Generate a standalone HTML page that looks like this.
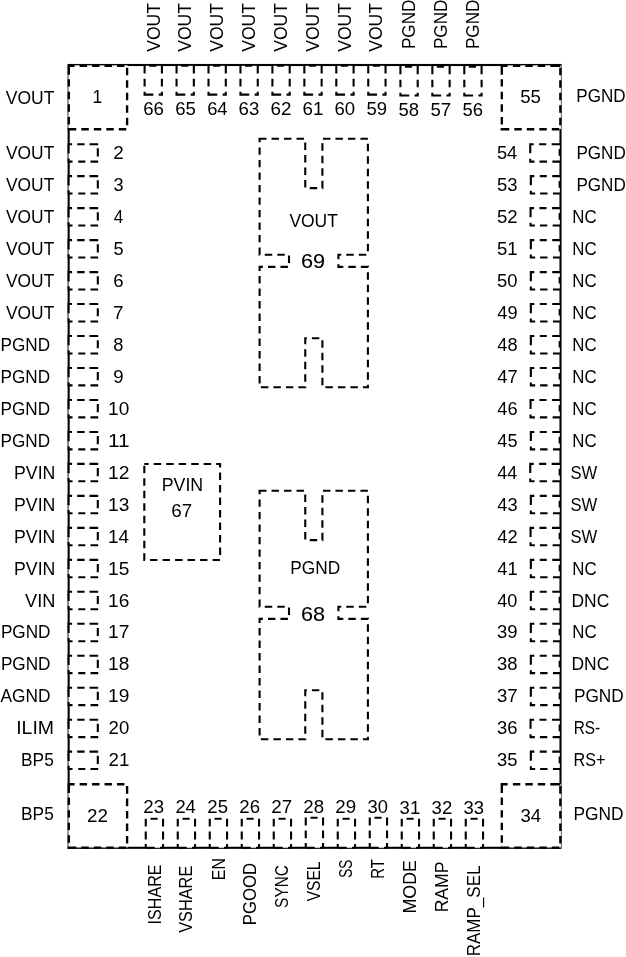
<!DOCTYPE html>
<html><head><meta charset="utf-8"><title>Pinout</title>
<style>
html,body{margin:0;padding:0;background:#fff;}
svg{display:block;will-change:transform;}
text.b{stroke:#000;stroke-width:0.1px;}
text{font-family:"Liberation Sans",sans-serif;font-size:18.0px;fill:#000;}
</style></head><body>
<svg width="626" height="957" viewBox="0 0 626 957">
<rect width="626" height="957" fill="#fff"/>
<rect x="68.65" y="65.0" width="491.85" height="782.8" fill="none" stroke="#000" stroke-width="2.1"/>
<g fill="#fff"><rect x="68.50" y="144.20" width="29.30" height="17.40"/><rect x="68.50" y="176.17" width="29.30" height="17.40"/><rect x="68.50" y="208.14" width="29.30" height="17.40"/><rect x="68.50" y="240.12" width="29.30" height="17.40"/><rect x="68.50" y="272.09" width="29.30" height="17.40"/><rect x="68.50" y="304.06" width="29.30" height="17.40"/><rect x="68.50" y="336.03" width="29.30" height="17.40"/><rect x="68.50" y="368.00" width="29.30" height="17.40"/><rect x="68.50" y="399.98" width="29.30" height="17.40"/><rect x="68.50" y="431.95" width="29.30" height="17.40"/><rect x="68.50" y="463.92" width="29.30" height="17.40"/><rect x="68.50" y="495.89" width="29.30" height="17.40"/><rect x="68.50" y="527.86" width="29.30" height="17.40"/><rect x="68.50" y="559.84" width="29.30" height="17.40"/><rect x="68.50" y="591.81" width="29.30" height="17.40"/><rect x="68.50" y="623.78" width="29.30" height="17.40"/><rect x="68.50" y="655.75" width="29.30" height="17.40"/><rect x="68.50" y="687.72" width="29.30" height="17.40"/><rect x="68.50" y="719.70" width="29.30" height="17.40"/><rect x="68.50" y="751.67" width="29.30" height="17.40"/><rect x="530.85" y="751.67" width="28.85" height="17.40"/><rect x="530.55" y="719.70" width="29.15" height="17.40"/><rect x="530.85" y="687.72" width="28.85" height="17.40"/><rect x="530.85" y="655.75" width="28.85" height="17.40"/><rect x="530.85" y="623.78" width="28.85" height="17.40"/><rect x="530.85" y="591.81" width="28.85" height="17.40"/><rect x="530.85" y="559.84" width="28.85" height="17.40"/><rect x="530.55" y="527.86" width="29.15" height="17.40"/><rect x="530.85" y="495.89" width="28.85" height="17.40"/><rect x="530.25" y="463.92" width="29.45" height="17.40"/><rect x="530.85" y="431.95" width="28.85" height="17.40"/><rect x="530.55" y="399.98" width="29.15" height="17.40"/><rect x="530.85" y="368.00" width="28.85" height="17.40"/><rect x="530.85" y="336.03" width="28.85" height="17.40"/><rect x="530.85" y="304.06" width="28.85" height="17.40"/><rect x="530.85" y="272.09" width="28.85" height="17.40"/><rect x="530.85" y="240.12" width="28.85" height="17.40"/><rect x="530.55" y="208.14" width="29.15" height="17.40"/><rect x="530.85" y="176.17" width="28.85" height="17.40"/><rect x="530.25" y="144.20" width="29.45" height="17.40"/><rect x="144.60" y="65.80" width="17.30" height="28.80"/><rect x="176.55" y="65.80" width="17.30" height="28.80"/><rect x="208.50" y="65.80" width="17.30" height="28.80"/><rect x="240.45" y="65.80" width="17.30" height="28.80"/><rect x="272.40" y="65.80" width="17.30" height="28.80"/><rect x="304.35" y="65.80" width="17.30" height="28.80"/><rect x="336.30" y="65.80" width="17.30" height="28.80"/><rect x="368.25" y="65.80" width="17.30" height="28.80"/><rect x="400.40" y="66.70" width="17.30" height="28.80"/><rect x="432.35" y="66.70" width="17.30" height="28.80"/><rect x="464.30" y="66.70" width="17.30" height="28.80"/><rect x="145.75" y="818.80" width="17.30" height="28.95"/><rect x="177.75" y="818.80" width="17.30" height="28.95"/><rect x="209.75" y="818.80" width="17.30" height="28.95"/><rect x="241.75" y="818.80" width="17.30" height="28.95"/><rect x="273.75" y="818.80" width="17.30" height="28.95"/><rect x="305.75" y="817.70" width="17.30" height="30.05"/><rect x="337.75" y="818.80" width="17.30" height="28.95"/><rect x="369.75" y="817.70" width="17.30" height="30.05"/><rect x="401.75" y="818.80" width="17.30" height="28.95"/><rect x="433.75" y="818.80" width="17.30" height="28.95"/><rect x="465.75" y="818.80" width="17.30" height="28.95"/><rect x="68.40" y="65.35" width="59.25" height="63.75"/><rect x="501.40" y="65.35" width="59.50" height="63.75"/><rect x="68.40" y="783.75" width="59.25" height="63.75"/><rect x="501.40" y="783.75" width="59.50" height="63.75"/></g>
<path d="M67.55,144.20 L72.10,144.20 M77.20,144.20 L84.60,144.20 M89.50,144.20 L98.20,144.20 M97.80,148.30 L97.80,156.50 M67.55,161.60 L72.50,161.60 M78.30,161.60 L85.30,161.60 M90.50,161.60 L98.20,161.60 M68.60,144.20 L68.60,153.50 M68.60,158.40 L68.60,161.60 M67.55,176.17 L72.10,176.17 M77.20,176.17 L84.60,176.17 M89.50,176.17 L98.20,176.17 M97.80,180.27 L97.80,188.47 M67.55,193.57 L72.50,193.57 M78.30,193.57 L85.30,193.57 M90.50,193.57 L98.20,193.57 M68.60,176.17 L68.60,185.47 M68.60,190.37 L68.60,193.57 M67.55,208.14 L72.10,208.14 M77.20,208.14 L84.60,208.14 M89.50,208.14 L98.20,208.14 M97.80,212.24 L97.80,220.44 M67.55,225.54 L72.50,225.54 M78.30,225.54 L85.30,225.54 M90.50,225.54 L98.20,225.54 M68.60,208.14 L68.60,217.44 M68.60,222.34 L68.60,225.54 M67.55,240.12 L72.10,240.12 M77.20,240.12 L84.60,240.12 M89.50,240.12 L98.20,240.12 M97.80,244.22 L97.80,252.42 M67.55,257.52 L72.50,257.52 M78.30,257.52 L85.30,257.52 M90.50,257.52 L98.20,257.52 M68.60,240.12 L68.60,249.42 M68.60,254.32 L68.60,257.52 M67.55,272.09 L72.10,272.09 M77.20,272.09 L84.60,272.09 M89.50,272.09 L98.20,272.09 M97.80,276.19 L97.80,284.39 M67.55,289.49 L72.50,289.49 M78.30,289.49 L85.30,289.49 M90.50,289.49 L98.20,289.49 M68.60,272.09 L68.60,281.39 M68.60,286.29 L68.60,289.49 M67.55,304.06 L72.10,304.06 M77.20,304.06 L84.60,304.06 M89.50,304.06 L98.20,304.06 M97.80,308.16 L97.80,316.36 M67.55,321.46 L72.50,321.46 M78.30,321.46 L85.30,321.46 M90.50,321.46 L98.20,321.46 M68.60,304.06 L68.60,313.36 M68.60,318.26 L68.60,321.46 M67.55,336.03 L72.10,336.03 M77.20,336.03 L84.60,336.03 M89.50,336.03 L98.20,336.03 M97.80,340.13 L97.80,348.33 M67.55,353.43 L72.50,353.43 M78.30,353.43 L85.30,353.43 M90.50,353.43 L98.20,353.43 M68.60,336.03 L68.60,345.33 M68.60,350.23 L68.60,353.43 M67.55,368.00 L72.10,368.00 M77.20,368.00 L84.60,368.00 M89.50,368.00 L98.20,368.00 M97.80,372.10 L97.80,380.30 M67.55,385.40 L72.50,385.40 M78.30,385.40 L85.30,385.40 M90.50,385.40 L98.20,385.40 M68.60,368.00 L68.60,377.30 M68.60,382.20 L68.60,385.40 M67.55,399.98 L72.10,399.98 M77.20,399.98 L84.60,399.98 M89.50,399.98 L98.20,399.98 M97.80,404.08 L97.80,412.28 M67.55,417.38 L72.50,417.38 M78.30,417.38 L85.30,417.38 M90.50,417.38 L98.20,417.38 M68.60,399.98 L68.60,409.28 M68.60,414.18 L68.60,417.38 M67.55,431.95 L72.10,431.95 M77.20,431.95 L84.60,431.95 M89.50,431.95 L98.20,431.95 M97.80,436.05 L97.80,444.25 M67.55,449.35 L72.50,449.35 M78.30,449.35 L85.30,449.35 M90.50,449.35 L98.20,449.35 M68.60,431.95 L68.60,441.25 M68.60,446.15 L68.60,449.35 M67.55,463.92 L72.10,463.92 M77.20,463.92 L84.60,463.92 M89.50,463.92 L98.20,463.92 M97.80,468.02 L97.80,476.22 M67.55,481.32 L72.50,481.32 M78.30,481.32 L85.30,481.32 M90.50,481.32 L98.20,481.32 M68.60,463.92 L68.60,473.22 M68.60,478.12 L68.60,481.32 M67.55,495.89 L72.10,495.89 M77.20,495.89 L84.60,495.89 M89.50,495.89 L98.20,495.89 M97.80,499.99 L97.80,508.19 M67.55,513.29 L72.50,513.29 M78.30,513.29 L85.30,513.29 M90.50,513.29 L98.20,513.29 M68.60,495.89 L68.60,505.19 M68.60,510.09 L68.60,513.29 M67.55,527.86 L72.10,527.86 M77.20,527.86 L84.60,527.86 M89.50,527.86 L98.20,527.86 M97.80,531.96 L97.80,540.16 M67.55,545.26 L72.50,545.26 M78.30,545.26 L85.30,545.26 M90.50,545.26 L98.20,545.26 M68.60,527.86 L68.60,537.16 M68.60,542.06 L68.60,545.26 M67.55,559.84 L72.10,559.84 M77.20,559.84 L84.60,559.84 M89.50,559.84 L98.20,559.84 M97.80,563.94 L97.80,572.14 M67.55,577.24 L72.50,577.24 M78.30,577.24 L85.30,577.24 M90.50,577.24 L98.20,577.24 M68.60,559.84 L68.60,569.14 M68.60,574.04 L68.60,577.24 M67.55,591.81 L72.10,591.81 M77.20,591.81 L84.60,591.81 M89.50,591.81 L98.20,591.81 M97.80,595.91 L97.80,604.11 M67.55,609.21 L72.50,609.21 M78.30,609.21 L85.30,609.21 M90.50,609.21 L98.20,609.21 M68.60,591.81 L68.60,601.11 M68.60,606.01 L68.60,609.21 M67.55,623.78 L72.10,623.78 M77.20,623.78 L84.60,623.78 M89.50,623.78 L98.20,623.78 M97.80,627.88 L97.80,636.08 M67.55,641.18 L72.50,641.18 M78.30,641.18 L85.30,641.18 M90.50,641.18 L98.20,641.18 M68.60,623.78 L68.60,633.08 M68.60,637.98 L68.60,641.18 M67.55,655.75 L72.10,655.75 M77.20,655.75 L84.60,655.75 M89.50,655.75 L98.20,655.75 M97.80,659.85 L97.80,668.05 M67.55,673.15 L72.50,673.15 M78.30,673.15 L85.30,673.15 M90.50,673.15 L98.20,673.15 M68.60,655.75 L68.60,665.05 M68.60,669.95 L68.60,673.15 M67.55,687.72 L72.10,687.72 M77.20,687.72 L84.60,687.72 M89.50,687.72 L98.20,687.72 M97.80,691.82 L97.80,700.02 M67.55,705.12 L72.50,705.12 M78.30,705.12 L85.30,705.12 M90.50,705.12 L98.20,705.12 M68.60,687.72 L68.60,697.02 M68.60,701.92 L68.60,705.12 M67.55,719.70 L72.10,719.70 M77.20,719.70 L84.60,719.70 M89.50,719.70 L98.20,719.70 M97.80,723.80 L97.80,732.00 M67.55,737.10 L72.50,737.10 M78.30,737.10 L85.30,737.10 M90.50,737.10 L98.20,737.10 M68.60,719.70 L68.60,729.00 M68.60,733.90 L68.60,737.10 M67.55,751.67 L72.10,751.67 M77.20,751.67 L84.60,751.67 M89.50,751.67 L98.20,751.67 M97.80,755.77 L97.80,763.97 M67.55,769.07 L72.50,769.07 M78.30,769.07 L85.30,769.07 M90.50,769.07 L98.20,769.07 M68.60,751.67 L68.60,760.97 M68.60,765.87 L68.60,769.07 M534.35,751.67 L530.85,751.67 L530.85,760.77 M539.75,751.67 L546.75,751.67 M552.25,751.67 L560.50,751.67 M530.85,766.17 L530.85,769.07 L535.15,769.07 M540.15,769.07 L547.55,769.07 M552.95,769.07 L560.50,769.07 M559.70,756.57 L559.70,763.17 M534.05,719.70 L530.55,719.70 L530.55,728.80 M539.45,719.70 L546.45,719.70 M551.95,719.70 L560.50,719.70 M530.55,734.20 L530.55,737.10 L534.85,737.10 M539.85,737.10 L547.25,737.10 M552.65,737.10 L560.50,737.10 M559.70,724.60 L559.70,731.20 M534.35,687.72 L530.85,687.72 L530.85,696.82 M539.75,687.72 L546.75,687.72 M552.25,687.72 L560.50,687.72 M530.85,702.22 L530.85,705.12 L535.15,705.12 M540.15,705.12 L547.55,705.12 M552.95,705.12 L560.50,705.12 M559.70,692.62 L559.70,699.22 M534.35,655.75 L530.85,655.75 L530.85,664.85 M539.75,655.75 L546.75,655.75 M552.25,655.75 L560.50,655.75 M530.85,670.25 L530.85,673.15 L535.15,673.15 M540.15,673.15 L547.55,673.15 M552.95,673.15 L560.50,673.15 M559.70,660.65 L559.70,667.25 M534.35,623.78 L530.85,623.78 L530.85,632.88 M539.75,623.78 L546.75,623.78 M552.25,623.78 L560.50,623.78 M530.85,638.28 L530.85,641.18 L535.15,641.18 M540.15,641.18 L547.55,641.18 M552.95,641.18 L560.50,641.18 M559.70,628.68 L559.70,635.28 M534.35,591.81 L530.85,591.81 L530.85,600.91 M539.75,591.81 L546.75,591.81 M552.25,591.81 L560.50,591.81 M530.85,606.31 L530.85,609.21 L535.15,609.21 M540.15,609.21 L547.55,609.21 M552.95,609.21 L560.50,609.21 M559.70,596.71 L559.70,603.31 M534.35,559.84 L530.85,559.84 L530.85,568.94 M539.75,559.84 L546.75,559.84 M552.25,559.84 L560.50,559.84 M530.85,574.34 L530.85,577.24 L535.15,577.24 M540.15,577.24 L547.55,577.24 M552.95,577.24 L560.50,577.24 M559.70,564.74 L559.70,571.34 M534.05,527.86 L530.55,527.86 L530.55,536.96 M539.45,527.86 L546.45,527.86 M551.95,527.86 L560.50,527.86 M530.55,542.36 L530.55,545.26 L534.85,545.26 M539.85,545.26 L547.25,545.26 M552.65,545.26 L560.50,545.26 M559.70,532.76 L559.70,539.36 M534.35,495.89 L530.85,495.89 L530.85,504.99 M539.75,495.89 L546.75,495.89 M552.25,495.89 L560.50,495.89 M530.85,510.39 L530.85,513.29 L535.15,513.29 M540.15,513.29 L547.55,513.29 M552.95,513.29 L560.50,513.29 M559.70,500.79 L559.70,507.39 M533.75,463.92 L530.25,463.92 L530.25,473.02 M539.15,463.92 L546.15,463.92 M551.65,463.92 L560.50,463.92 M530.25,478.42 L530.25,481.32 L534.55,481.32 M539.55,481.32 L546.95,481.32 M552.35,481.32 L560.50,481.32 M559.70,468.82 L559.70,475.42 M534.35,431.95 L530.85,431.95 L530.85,441.05 M539.75,431.95 L546.75,431.95 M552.25,431.95 L560.50,431.95 M530.85,446.45 L530.85,449.35 L535.15,449.35 M540.15,449.35 L547.55,449.35 M552.95,449.35 L560.50,449.35 M559.70,436.85 L559.70,443.45 M534.05,399.98 L530.55,399.98 L530.55,409.08 M539.45,399.98 L546.45,399.98 M551.95,399.98 L560.50,399.98 M530.55,414.48 L530.55,417.38 L534.85,417.38 M539.85,417.38 L547.25,417.38 M552.65,417.38 L560.50,417.38 M559.70,404.88 L559.70,411.48 M534.35,368.00 L530.85,368.00 L530.85,377.10 M539.75,368.00 L546.75,368.00 M552.25,368.00 L560.50,368.00 M530.85,382.50 L530.85,385.40 L535.15,385.40 M540.15,385.40 L547.55,385.40 M552.95,385.40 L560.50,385.40 M559.70,372.90 L559.70,379.50 M534.35,336.03 L530.85,336.03 L530.85,345.13 M539.75,336.03 L546.75,336.03 M552.25,336.03 L560.50,336.03 M530.85,350.53 L530.85,353.43 L535.15,353.43 M540.15,353.43 L547.55,353.43 M552.95,353.43 L560.50,353.43 M559.70,340.93 L559.70,347.53 M534.35,304.06 L530.85,304.06 L530.85,313.16 M539.75,304.06 L546.75,304.06 M552.25,304.06 L560.50,304.06 M530.85,318.56 L530.85,321.46 L535.15,321.46 M540.15,321.46 L547.55,321.46 M552.95,321.46 L560.50,321.46 M559.70,308.96 L559.70,315.56 M534.35,272.09 L530.85,272.09 L530.85,281.19 M539.75,272.09 L546.75,272.09 M552.25,272.09 L560.50,272.09 M530.85,286.59 L530.85,289.49 L535.15,289.49 M540.15,289.49 L547.55,289.49 M552.95,289.49 L560.50,289.49 M559.70,276.99 L559.70,283.59 M534.35,240.12 L530.85,240.12 L530.85,249.22 M539.75,240.12 L546.75,240.12 M552.25,240.12 L560.50,240.12 M530.85,254.62 L530.85,257.52 L535.15,257.52 M540.15,257.52 L547.55,257.52 M552.95,257.52 L560.50,257.52 M559.70,245.02 L559.70,251.62 M534.05,208.14 L530.55,208.14 L530.55,217.24 M539.45,208.14 L546.45,208.14 M551.95,208.14 L560.50,208.14 M530.55,222.64 L530.55,225.54 L534.85,225.54 M539.85,225.54 L547.25,225.54 M552.65,225.54 L560.50,225.54 M559.70,213.04 L559.70,219.64 M534.35,176.17 L530.85,176.17 L530.85,185.27 M539.75,176.17 L546.75,176.17 M552.25,176.17 L560.50,176.17 M530.85,190.67 L530.85,193.57 L535.15,193.57 M540.15,193.57 L547.55,193.57 M552.95,193.57 L560.50,193.57 M559.70,181.07 L559.70,187.67 M533.75,144.20 L530.25,144.20 L530.25,153.30 M539.15,144.20 L546.15,144.20 M551.65,144.20 L560.50,144.20 M530.25,158.70 L530.25,161.60 L534.55,161.60 M539.55,161.60 L546.95,161.60 M552.35,161.60 L560.50,161.60 M559.70,149.10 L559.70,155.70 M144.60,65.00 L144.60,73.40 M144.60,78.80 L144.60,86.40 M161.90,65.00 L161.90,73.40 M161.90,78.80 L161.90,86.40 M144.60,91.80 L144.60,94.60 L153.35,94.60 M158.75,94.60 L161.90,94.60 L161.90,91.80 M149.15,65.80 L156.35,65.80 M176.55,65.00 L176.55,73.40 M176.55,78.80 L176.55,86.40 M193.85,65.00 L193.85,73.40 M193.85,78.80 L193.85,86.40 M176.55,91.80 L176.55,94.60 L185.30,94.60 M190.70,94.60 L193.85,94.60 L193.85,91.80 M181.10,65.80 L188.30,65.80 M208.50,65.00 L208.50,73.40 M208.50,78.80 L208.50,86.40 M225.80,65.00 L225.80,73.40 M225.80,78.80 L225.80,86.40 M208.50,91.80 L208.50,94.60 L217.25,94.60 M222.65,94.60 L225.80,94.60 L225.80,91.80 M213.05,65.80 L220.25,65.80 M240.45,65.00 L240.45,73.40 M240.45,78.80 L240.45,86.40 M257.75,65.00 L257.75,73.40 M257.75,78.80 L257.75,86.40 M240.45,91.80 L240.45,94.60 L249.20,94.60 M254.60,94.60 L257.75,94.60 L257.75,91.80 M245.00,65.80 L252.20,65.80 M272.40,65.00 L272.40,73.40 M272.40,78.80 L272.40,86.40 M289.70,65.00 L289.70,73.40 M289.70,78.80 L289.70,86.40 M272.40,91.80 L272.40,94.60 L281.15,94.60 M286.55,94.60 L289.70,94.60 L289.70,91.80 M276.95,65.80 L284.15,65.80 M304.35,65.00 L304.35,73.40 M304.35,78.80 L304.35,86.40 M321.65,65.00 L321.65,73.40 M321.65,78.80 L321.65,86.40 M304.35,91.80 L304.35,94.60 L313.10,94.60 M318.50,94.60 L321.65,94.60 L321.65,91.80 M308.90,65.80 L316.10,65.80 M336.30,65.00 L336.30,73.40 M336.30,78.80 L336.30,86.40 M353.60,65.00 L353.60,73.40 M353.60,78.80 L353.60,86.40 M336.30,91.80 L336.30,94.60 L345.05,94.60 M350.45,94.60 L353.60,94.60 L353.60,91.80 M340.85,65.80 L348.05,65.80 M368.25,65.00 L368.25,73.40 M368.25,78.80 L368.25,86.40 M385.55,65.00 L385.55,73.40 M385.55,78.80 L385.55,86.40 M368.25,91.80 L368.25,94.60 L377.00,94.60 M382.40,94.60 L385.55,94.60 L385.55,91.80 M372.80,65.80 L380.00,65.80 M400.40,65.00 L400.40,74.30 M400.40,79.70 L400.40,87.30 M417.70,65.00 L417.70,74.30 M417.70,79.70 L417.70,87.30 M400.40,92.70 L400.40,95.50 L409.15,95.50 M414.55,95.50 L417.70,95.50 L417.70,92.70 M404.95,66.70 L412.15,66.70 M432.35,65.00 L432.35,74.30 M432.35,79.70 L432.35,87.30 M449.65,65.00 L449.65,74.30 M449.65,79.70 L449.65,87.30 M432.35,92.70 L432.35,95.50 L441.10,95.50 M446.50,95.50 L449.65,95.50 L449.65,92.70 M436.90,66.70 L444.10,66.70 M464.30,65.00 L464.30,74.30 M464.30,79.70 L464.30,87.30 M481.60,65.00 L481.60,74.30 M481.60,79.70 L481.60,87.30 M464.30,92.70 L464.30,95.50 L473.05,95.50 M478.45,95.50 L481.60,95.50 L481.60,92.70 M468.85,66.70 L476.05,66.70 M145.75,818.70 L145.75,826.50 M145.75,831.60 L145.75,839.40 M145.75,844.10 L145.75,848.00 M163.05,818.70 L163.05,826.50 M163.05,831.60 L163.05,839.40 M163.05,844.10 L163.05,848.00 M150.50,818.80 L157.60,818.80 M145.75,847.75 L154.70,847.75 M160.00,847.75 L163.05,847.75 M177.75,818.70 L177.75,826.50 M177.75,831.60 L177.75,839.40 M177.75,844.10 L177.75,848.00 M195.05,818.70 L195.05,826.50 M195.05,831.60 L195.05,839.40 M195.05,844.10 L195.05,848.00 M182.50,818.80 L189.60,818.80 M177.75,847.75 L186.70,847.75 M192.00,847.75 L195.05,847.75 M209.75,818.70 L209.75,826.50 M209.75,831.60 L209.75,839.40 M209.75,844.10 L209.75,848.00 M227.05,818.70 L227.05,826.50 M227.05,831.60 L227.05,839.40 M227.05,844.10 L227.05,848.00 M214.50,818.80 L221.60,818.80 M209.75,847.75 L218.70,847.75 M224.00,847.75 L227.05,847.75 M241.75,818.70 L241.75,826.50 M241.75,831.60 L241.75,839.40 M241.75,844.10 L241.75,848.00 M259.05,818.70 L259.05,826.50 M259.05,831.60 L259.05,839.40 M259.05,844.10 L259.05,848.00 M246.50,818.80 L253.60,818.80 M241.75,847.75 L250.70,847.75 M256.00,847.75 L259.05,847.75 M273.75,818.70 L273.75,826.50 M273.75,831.60 L273.75,839.40 M273.75,844.10 L273.75,848.00 M291.05,818.70 L291.05,826.50 M291.05,831.60 L291.05,839.40 M291.05,844.10 L291.05,848.00 M278.50,818.80 L285.60,818.80 M273.75,847.75 L282.70,847.75 M288.00,847.75 L291.05,847.75 M305.75,817.60 L305.75,825.40 M305.75,830.50 L305.75,838.30 M305.75,843.00 L305.75,848.00 M323.05,817.60 L323.05,825.40 M323.05,830.50 L323.05,838.30 M323.05,843.00 L323.05,848.00 M310.50,817.70 L317.60,817.70 M305.75,847.75 L314.70,847.75 M320.00,847.75 L323.05,847.75 M337.75,818.70 L337.75,826.50 M337.75,831.60 L337.75,839.40 M337.75,844.10 L337.75,848.00 M355.05,818.70 L355.05,826.50 M355.05,831.60 L355.05,839.40 M355.05,844.10 L355.05,848.00 M342.50,818.80 L349.60,818.80 M337.75,847.75 L346.70,847.75 M352.00,847.75 L355.05,847.75 M369.75,817.60 L369.75,825.40 M369.75,830.50 L369.75,838.30 M369.75,843.00 L369.75,848.00 M387.05,817.60 L387.05,825.40 M387.05,830.50 L387.05,838.30 M387.05,843.00 L387.05,848.00 M374.50,817.70 L381.60,817.70 M369.75,847.75 L378.70,847.75 M384.00,847.75 L387.05,847.75 M401.75,818.70 L401.75,826.50 M401.75,831.60 L401.75,839.40 M401.75,844.10 L401.75,848.00 M419.05,818.70 L419.05,826.50 M419.05,831.60 L419.05,839.40 M419.05,844.10 L419.05,848.00 M406.50,818.80 L413.60,818.80 M401.75,847.75 L410.70,847.75 M416.00,847.75 L419.05,847.75 M433.75,818.70 L433.75,826.50 M433.75,831.60 L433.75,839.40 M433.75,844.10 L433.75,848.00 M451.05,818.70 L451.05,826.50 M451.05,831.60 L451.05,839.40 M451.05,844.10 L451.05,848.00 M438.50,818.80 L445.60,818.80 M433.75,847.75 L442.70,847.75 M448.00,847.75 L451.05,847.75 M465.75,818.70 L465.75,826.50 M465.75,831.60 L465.75,839.40 M465.75,844.10 L465.75,848.00 M483.05,818.70 L483.05,826.50 M483.05,831.60 L483.05,839.40 M483.05,844.10 L483.05,848.00 M470.50,818.80 L477.60,818.80 M465.75,847.75 L474.70,847.75 M480.00,847.75 L483.05,847.75 M144.30,464.00 L148.65,464.00 M153.70,464.00 L161.15,464.00 M166.20,464.00 L173.65,464.00 M178.70,464.00 L186.15,464.00 M191.20,464.00 L198.65,464.00 M203.70,464.00 L211.15,464.00 M216.20,464.00 L220.10,464.00 L220.10,467.55 M220.10,472.60 L220.10,480.05 M220.10,485.10 L220.10,492.55 M220.10,497.60 L220.10,505.05 M220.10,510.10 L220.10,517.55 M220.10,522.60 L220.10,530.05 M220.10,535.10 L220.10,542.55 M220.10,547.60 L220.10,555.05 M220.00,560.00 L212.55,560.00 M207.50,560.00 L200.05,560.00 M195.00,560.00 L187.55,560.00 M182.50,560.00 L175.05,560.00 M170.00,560.00 L162.55,560.00 M157.50,560.00 L150.05,560.00 M145.00,560.00 L144.30,560.00 L144.30,553.25 M144.30,548.20 L144.30,540.75 M144.30,535.70 L144.30,528.25 M144.30,523.20 L144.30,515.75 M144.30,510.70 L144.30,503.25 M144.30,498.20 L144.30,490.75 M144.30,485.70 L144.30,478.25 M144.30,473.20 L144.30,465.75 M259.60,142.35 L259.60,138.80 L266.50,138.80 M271.55,138.80 L279.00,138.80 M284.05,138.80 L291.50,138.80 M296.55,138.80 L304.00,138.80 M305.25,142.60 L305.25,150.05 M305.25,155.10 L305.25,162.55 M305.25,167.60 L305.25,175.05 M305.25,180.10 L305.25,187.55 M309.75,188.10 L317.20,188.10 M322.25,188.10 L322.40,188.10 L322.40,180.80 M322.40,175.75 L322.40,168.30 M322.40,163.25 L322.40,155.80 M322.40,150.75 L322.40,143.30 M322.95,138.80 L330.40,138.80 M335.45,138.80 L342.90,138.80 M347.95,138.80 L355.40,138.80 M360.45,138.80 L367.90,138.80 M367.90,143.85 L367.90,151.30 M367.90,156.35 L367.90,163.80 M367.90,168.85 L367.90,176.30 M367.90,181.35 L367.90,188.80 M367.90,193.85 L367.90,201.30 M367.90,206.35 L367.90,213.80 M367.90,218.85 L367.90,226.30 M367.90,231.35 L367.90,238.80 M367.90,243.85 L367.90,251.30 M366.25,254.70 L358.80,254.70 M353.75,254.70 L346.30,254.70 M341.25,254.70 L338.40,254.70 L338.40,259.30 M338.40,264.35 L338.40,266.90 L343.30,266.90 M348.35,266.90 L355.80,266.90 M360.85,266.90 L367.90,266.90 L367.90,267.30 M367.90,272.35 L367.90,279.80 M367.90,284.85 L367.90,292.30 M367.90,297.35 L367.90,304.80 M367.90,309.85 L367.90,317.30 M367.90,322.35 L367.90,329.80 M367.90,334.85 L367.90,342.30 M367.90,347.35 L367.90,354.80 M367.90,359.85 L367.90,367.30 M367.90,372.35 L367.90,379.80 M367.90,384.85 L367.90,387.30 L362.90,387.30 M357.85,387.30 L350.40,387.30 M345.35,387.30 L337.90,387.30 M332.85,387.30 L325.40,387.30 M322.40,385.25 L322.40,377.80 M322.40,372.75 L322.40,365.30 M322.40,360.25 L322.40,352.80 M322.40,347.75 L322.40,340.30 M319.35,338.30 L311.90,338.30 M306.85,338.30 L305.25,338.30 L305.25,344.15 M305.25,349.20 L305.25,356.65 M305.25,361.70 L305.25,369.15 M305.25,374.20 L305.25,381.65 M305.25,386.70 L305.25,387.30 L298.40,387.30 M293.35,387.30 L285.90,387.30 M280.85,387.30 L273.40,387.30 M268.35,387.30 L260.90,387.30 M259.60,383.55 L259.60,376.10 M259.60,371.05 L259.60,363.60 M259.60,358.55 L259.60,351.10 M259.60,346.05 L259.60,338.60 M259.60,333.55 L259.60,326.10 M259.60,321.05 L259.60,313.60 M259.60,308.55 L259.60,301.10 M259.60,296.05 L259.60,288.60 M259.60,283.55 L259.60,276.10 M259.60,271.05 L259.60,266.90 L262.90,266.90 M267.95,266.90 L275.40,266.90 M280.45,266.90 L287.90,266.90 M289.00,262.95 L289.00,255.50 M284.75,254.70 L277.30,254.70 M272.25,254.70 L264.80,254.70 M259.75,254.70 L259.60,254.70 L259.60,247.40 M259.60,242.35 L259.60,234.90 M259.60,229.85 L259.60,222.40 M259.60,217.35 L259.60,209.90 M259.60,204.85 L259.60,197.40 M259.60,192.35 L259.60,184.90 M259.60,179.85 L259.60,172.40 M259.60,167.35 L259.60,159.90 M259.60,154.85 L259.60,147.40 M259.60,494.35 L259.60,490.80 L266.50,490.80 M271.55,490.80 L279.00,490.80 M284.05,490.80 L291.50,490.80 M296.55,490.80 L304.00,490.80 M305.25,494.60 L305.25,502.05 M305.25,507.10 L305.25,514.55 M305.25,519.60 L305.25,527.05 M305.25,532.10 L305.25,539.55 M309.75,540.10 L317.20,540.10 M322.25,540.10 L322.40,540.10 L322.40,532.80 M322.40,527.75 L322.40,520.30 M322.40,515.25 L322.40,507.80 M322.40,502.75 L322.40,495.30 M322.95,490.80 L330.40,490.80 M335.45,490.80 L342.90,490.80 M347.95,490.80 L355.40,490.80 M360.45,490.80 L367.90,490.80 M367.90,495.85 L367.90,503.30 M367.90,508.35 L367.90,515.80 M367.90,520.85 L367.90,528.30 M367.90,533.35 L367.90,540.80 M367.90,545.85 L367.90,553.30 M367.90,558.35 L367.90,565.80 M367.90,570.85 L367.90,578.30 M367.90,583.35 L367.90,590.80 M367.90,595.85 L367.90,603.30 M366.25,606.70 L358.80,606.70 M353.75,606.70 L346.30,606.70 M341.25,606.70 L338.40,606.70 L338.40,611.30 M338.40,616.35 L338.40,618.90 L343.30,618.90 M348.35,618.90 L355.80,618.90 M360.85,618.90 L367.90,618.90 L367.90,619.30 M367.90,624.35 L367.90,631.80 M367.90,636.85 L367.90,644.30 M367.90,649.35 L367.90,656.80 M367.90,661.85 L367.90,669.30 M367.90,674.35 L367.90,681.80 M367.90,686.85 L367.90,694.30 M367.90,699.35 L367.90,706.80 M367.90,711.85 L367.90,719.30 M367.90,724.35 L367.90,731.80 M367.90,736.85 L367.90,739.30 L362.90,739.30 M357.85,739.30 L350.40,739.30 M345.35,739.30 L337.90,739.30 M332.85,739.30 L325.40,739.30 M322.40,737.25 L322.40,729.80 M322.40,724.75 L322.40,717.30 M322.40,712.25 L322.40,704.80 M322.40,699.75 L322.40,692.30 M319.35,690.30 L311.90,690.30 M306.85,690.30 L305.25,690.30 L305.25,696.15 M305.25,701.20 L305.25,708.65 M305.25,713.70 L305.25,721.15 M305.25,726.20 L305.25,733.65 M305.25,738.70 L305.25,739.30 L298.40,739.30 M293.35,739.30 L285.90,739.30 M280.85,739.30 L273.40,739.30 M268.35,739.30 L260.90,739.30 M259.60,735.55 L259.60,728.10 M259.60,723.05 L259.60,715.60 M259.60,710.55 L259.60,703.10 M259.60,698.05 L259.60,690.60 M259.60,685.55 L259.60,678.10 M259.60,673.05 L259.60,665.60 M259.60,660.55 L259.60,653.10 M259.60,648.05 L259.60,640.60 M259.60,635.55 L259.60,628.10 M259.60,623.05 L259.60,618.90 L262.90,618.90 M267.95,618.90 L275.40,618.90 M280.45,618.90 L287.90,618.90 M289.00,614.95 L289.00,607.50 M284.75,606.70 L277.30,606.70 M272.25,606.70 L264.80,606.70 M259.75,606.70 L259.60,606.70 L259.60,599.40 M259.60,594.35 L259.60,586.90 M259.60,581.85 L259.60,574.40 M259.60,569.35 L259.60,561.90 M259.60,556.85 L259.60,549.40 M259.60,544.35 L259.60,536.90 M259.60,531.85 L259.60,524.40 M259.60,519.35 L259.60,511.90 M259.60,506.85 L259.60,499.40" fill="none" stroke="#000" stroke-width="2.1" stroke-linejoin="miter"/>
<path d="M67.62,129.20 L76.25,129.20 M81.30,129.20 L88.75,129.20 M93.80,129.20 L101.25,129.20 M106.30,129.20 L113.75,129.20 M118.80,129.20 L126.25,129.20 M127.10,67.70 L127.10,75.30 M127.10,80.20 L127.10,87.75 M127.10,92.70 L127.10,100.20 M127.10,105.20 L127.10,112.70 M127.10,117.70 L127.10,125.15 M117.00,65.80 L124.40,65.80 M104.55,65.80 L111.95,65.80 M92.10,65.80 L99.50,65.80 M79.65,65.80 L87.05,65.80 M67.62,65.80 L74.60,65.80 M68.80,65.70 L68.80,74.70 M68.80,79.20 L68.80,86.50 M68.80,91.80 L68.80,99.20 M68.80,104.30 L68.80,111.70 M68.80,116.90 L68.80,124.40 M500.62,129.20 L509.25,129.20 M514.30,129.20 L521.75,129.20 M526.80,129.20 L534.25,129.20 M539.30,129.20 L546.75,129.20 M551.80,129.20 L559.25,129.20 M560.35,67.70 L560.35,75.30 M560.35,80.20 L560.35,87.75 M560.35,92.70 L560.35,100.20 M560.35,105.20 L560.35,112.70 M560.35,117.70 L560.35,125.15 M550.25,65.80 L560.35,65.80 M537.80,65.80 L545.20,65.80 M525.35,65.80 L532.75,65.80 M512.90,65.80 L520.30,65.80 M500.62,65.80 L507.60,65.80 M501.80,65.70 L501.80,74.70 M501.80,79.20 L501.80,86.50 M501.80,91.80 L501.80,99.20 M501.80,104.30 L501.80,111.70 M501.80,116.90 L501.80,124.40 M67.62,847.60 L76.25,847.60 M81.30,847.60 L88.75,847.60 M93.80,847.60 L101.25,847.60 M106.30,847.60 L113.75,847.60 M118.80,847.60 L126.25,847.60 M127.10,786.10 L127.10,793.70 M127.10,798.60 L127.10,806.15 M127.10,811.10 L127.10,818.60 M127.10,823.60 L127.10,831.10 M127.10,836.10 L127.10,843.55 M117.00,784.20 L124.40,784.20 M104.55,784.20 L111.95,784.20 M92.10,784.20 L99.50,784.20 M79.65,784.20 L87.05,784.20 M67.62,784.20 L74.60,784.20 M68.80,784.10 L68.80,793.10 M68.80,797.60 L68.80,804.90 M68.80,810.20 L68.80,817.60 M68.80,822.70 L68.80,830.10 M68.80,835.30 L68.80,842.80 M500.62,847.60 L509.25,847.60 M514.30,847.60 L521.75,847.60 M526.80,847.60 L534.25,847.60 M539.30,847.60 L546.75,847.60 M551.80,847.60 L559.25,847.60 M560.35,786.10 L560.35,793.70 M560.35,798.60 L560.35,806.15 M560.35,811.10 L560.35,818.60 M560.35,823.60 L560.35,831.10 M560.35,836.10 L560.35,843.55 M550.25,784.20 L560.35,784.20 M537.80,784.20 L545.20,784.20 M525.35,784.20 L532.75,784.20 M512.90,784.20 L520.30,784.20 M500.62,784.20 L507.60,784.20 M501.80,784.10 L501.80,793.10 M501.80,797.60 L501.80,804.90 M501.80,810.20 L501.80,817.60 M501.80,822.70 L501.80,830.10 M501.80,835.30 L501.80,842.80" fill="none" stroke="#000" stroke-width="2.35" stroke-linejoin="miter"/>
<text transform="translate(6.01 158.90) scale(0.9657 1.0101)">VOUT</text>
<text transform="translate(113.15 158.90) scale(1.0501 1.0101)">2</text>
<text transform="translate(6.01 190.87) scale(0.9657 1.0101)">VOUT</text>
<text transform="translate(113.42 190.87) scale(1.0058 1.0101)">3</text>
<text transform="translate(6.01 222.84) scale(0.9657 1.0101)">VOUT</text>
<text transform="translate(113.72 222.84) scale(0.9461 1.0101)">4</text>
<text transform="translate(6.01 254.82) scale(0.9657 1.0101)">VOUT</text>
<text transform="translate(113.38 254.82) scale(1.0058 1.0101)">5</text>
<text transform="translate(6.01 286.79) scale(0.9657 1.0101)">VOUT</text>
<text transform="translate(113.17 286.79) scale(1.0330 1.0101)">6</text>
<text transform="translate(6.01 318.76) scale(0.9657 1.0101)">VOUT</text>
<text transform="translate(113.10 318.76) scale(1.0559 1.0101)">7</text>
<text transform="translate(0.48 350.73) scale(0.9541 1.0101)">PGND</text>
<text transform="translate(113.32 350.73) scale(1.0165 1.0101)">8</text>
<text transform="translate(0.48 382.70) scale(0.9541 1.0101)">PGND</text>
<text transform="translate(113.22 382.70) scale(1.0330 1.0101)">9</text>
<text transform="translate(0.48 414.68) scale(0.9541 1.0101)">PGND</text>
<text transform="translate(108.07 414.68) scale(1.0582 1.0101)">10</text>
<text transform="translate(0.48 446.65) scale(0.9541 1.0101)">PGND</text>
<text transform="translate(107.94 446.65) scale(1.1536 1.0101)">11</text>
<text transform="translate(14.04 478.62) scale(0.9831 1.0101)">PVIN</text>
<text transform="translate(108.05 478.62) scale(1.0716 1.0101)">12</text>
<text transform="translate(14.04 510.59) scale(0.9831 1.0101)">PVIN</text>
<text transform="translate(108.06 510.59) scale(1.0635 1.0101)">13</text>
<text transform="translate(14.04 542.56) scale(0.9831 1.0101)">PVIN</text>
<text transform="translate(108.09 542.56) scale(1.0477 1.0101)">14</text>
<text transform="translate(14.04 574.54) scale(0.9831 1.0101)">PVIN</text>
<text transform="translate(108.07 574.54) scale(1.0609 1.0101)">15</text>
<text transform="translate(25.01 606.51) scale(1.0127 1.0101)">VIN</text>
<text transform="translate(108.06 606.51) scale(1.0635 1.0101)">16</text>
<text transform="translate(0.88 638.48) scale(0.9541 1.0101)">PGND</text>
<text transform="translate(108.05 638.48) scale(1.0716 1.0101)">17</text>
<text transform="translate(0.88 670.45) scale(0.9541 1.0101)">PGND</text>
<text transform="translate(108.06 670.45) scale(1.0635 1.0101)">18</text>
<text transform="translate(0.56 702.42) scale(0.9605 1.0101)">AGND</text>
<text transform="translate(108.06 702.42) scale(1.0662 1.0101)">19</text>
<text transform="translate(16.20 734.40) scale(1.0829 1.0101)">ILIM</text>
<text transform="translate(108.57 734.40) scale(1.0323 1.0101)">20</text>
<text transform="translate(21.07 766.37) scale(0.9618 1.0101)">BP5</text>
<text transform="translate(108.56 766.37) scale(1.0425 1.0101)">21</text>
<text transform="translate(5.81 103.60) scale(0.9737 1.0101)">VOUT</text>
<text transform="translate(92.38 103.00) scale(0.9762 1.0101)">1</text>
<text transform="translate(21.07 820.20) scale(0.9618 1.0101)">BP5</text>
<text transform="translate(86.96 821.60) scale(1.0451 1.0101)">22</text>
<text transform="translate(573.56 766.37) scale(0.9016 1.0101)">RS+</text>
<text transform="translate(497.01 766.37) scale(1.0223 1.0101)">35</text>
<text transform="translate(573.63 734.40) scale(0.8568 1.0101)">RS-</text>
<text transform="translate(497.01 734.40) scale(1.0248 1.0101)">36</text>
<text transform="translate(573.98 702.42) scale(0.9581 1.0101)">PGND</text>
<text transform="translate(497.00 702.42) scale(1.0323 1.0101)">37</text>
<text transform="translate(571.46 670.45) scale(0.9698 1.0101)">DNC</text>
<text transform="translate(497.01 670.45) scale(1.0248 1.0101)">38</text>
<text transform="translate(572.31 638.48) scale(0.9368 1.0101)">NC</text>
<text transform="translate(497.01 638.48) scale(1.0273 1.0101)">39</text>
<text transform="translate(571.46 606.51) scale(0.9698 1.0101)">DNC</text>
<text transform="translate(497.29 606.51) scale(1.0053 1.0101)">40</text>
<text transform="translate(572.31 574.54) scale(0.9368 1.0101)">NC</text>
<text transform="translate(497.29 574.54) scale(1.0150 1.0101)">41</text>
<text transform="translate(570.45 542.56) scale(0.9244 1.0101)">SW</text>
<text transform="translate(497.29 542.56) scale(1.0174 1.0101)">42</text>
<text transform="translate(570.45 510.59) scale(0.9244 1.0101)">SW</text>
<text transform="translate(497.29 510.59) scale(1.0101 1.0101)">43</text>
<text transform="translate(570.45 478.62) scale(0.9244 1.0101)">SW</text>
<text transform="translate(497.30 478.62) scale(0.9958 1.0101)">44</text>
<text transform="translate(572.31 446.65) scale(0.9368 1.0101)">NC</text>
<text transform="translate(497.29 446.65) scale(1.0077 1.0101)">45</text>
<text transform="translate(572.31 414.68) scale(0.9368 1.0101)">NC</text>
<text transform="translate(497.29 414.68) scale(1.0101 1.0101)">46</text>
<text transform="translate(572.31 382.70) scale(0.9368 1.0101)">NC</text>
<text transform="translate(497.29 382.70) scale(1.0174 1.0101)">47</text>
<text transform="translate(572.31 350.73) scale(0.9368 1.0101)">NC</text>
<text transform="translate(497.29 350.73) scale(1.0101 1.0101)">48</text>
<text transform="translate(572.31 318.76) scale(0.9368 1.0101)">NC</text>
<text transform="translate(497.29 318.76) scale(1.0125 1.0101)">49</text>
<text transform="translate(572.31 286.79) scale(0.9368 1.0101)">NC</text>
<text transform="translate(496.96 286.79) scale(1.0223 1.0101)">50</text>
<text transform="translate(572.31 254.82) scale(0.9368 1.0101)">NC</text>
<text transform="translate(496.96 254.82) scale(1.0323 1.0101)">51</text>
<text transform="translate(572.31 222.84) scale(0.9368 1.0101)">NC</text>
<text transform="translate(496.95 222.84) scale(1.0349 1.0101)">52</text>
<text transform="translate(576.39 190.87) scale(0.9501 1.0101)">PGND</text>
<text transform="translate(496.96 190.87) scale(1.0273 1.0101)">53</text>
<text transform="translate(576.39 158.90) scale(0.9501 1.0101)">PGND</text>
<text transform="translate(496.97 158.90) scale(1.0125 1.0101)">54</text>
<text transform="translate(576.29 101.60) scale(0.9481 1.0101)">PGND</text>
<text transform="translate(520.15 103.00) scale(1.0356 1.0101)">55</text>
<text transform="translate(573.47 820.20) scale(0.9642 1.0101)">PGND</text>
<text transform="translate(520.40 821.80) scale(1.0314 1.0101)">34</text>
<text transform="translate(143.22 114.70) scale(1.0374 1.0101)">66</text>
<text transform="translate(175.17 114.70) scale(1.0349 1.0101)">65</text>
<text transform="translate(207.13 114.70) scale(1.0223 1.0101)">64</text>
<text transform="translate(238.57 114.70) scale(1.0374 1.0101)">63</text>
<text transform="translate(270.51 114.70) scale(1.0451 1.0101)">62</text>
<text transform="translate(302.46 114.70) scale(1.0425 1.0101)">61</text>
<text transform="translate(334.42 114.70) scale(1.0323 1.0101)">60</text>
<text transform="translate(366.56 114.70) scale(1.0298 1.0101)">59</text>
<text transform="translate(398.51 116.00) scale(1.0273 1.0101)">58</text>
<text transform="translate(430.45 116.00) scale(1.0349 1.0101)">57</text>
<text transform="translate(462.41 116.00) scale(1.0273 1.0101)">56</text>
<text transform="translate(143.37 813.10) scale(1.0374 1.0101)">23</text>
<text transform="translate(175.38 813.10) scale(1.0223 1.0101)">24</text>
<text transform="translate(207.37 813.10) scale(1.0349 1.0101)">25</text>
<text transform="translate(239.37 813.10) scale(1.0374 1.0101)">26</text>
<text transform="translate(271.36 813.10) scale(1.0451 1.0101)">27</text>
<text transform="translate(303.37 813.10) scale(1.0374 1.0101)">28</text>
<text transform="translate(335.36 813.10) scale(1.0400 1.0101)">29</text>
<text transform="translate(367.61 813.10) scale(1.0199 1.0101)">30</text>
<text transform="translate(399.60 814.40) scale(1.0298 1.0101)">31</text>
<text transform="translate(431.60 814.40) scale(1.0323 1.0101)">32</text>
<text transform="translate(463.61 814.40) scale(1.0248 1.0101)">33</text>
<text transform="translate(159.95 51.79) rotate(-90) scale(0.9737 1.0182)">VOUT</text>
<text transform="translate(190.95 51.79) rotate(-90) scale(0.9737 1.0182)">VOUT</text>
<text transform="translate(223.15 51.79) rotate(-90) scale(0.9737 1.0182)">VOUT</text>
<text transform="translate(254.65 51.79) rotate(-90) scale(0.9737 1.0182)">VOUT</text>
<text transform="translate(287.15 51.79) rotate(-90) scale(0.9737 1.0182)">VOUT</text>
<text transform="translate(318.65 51.79) rotate(-90) scale(0.9737 1.0182)">VOUT</text>
<text transform="translate(350.90 51.79) rotate(-90) scale(0.9737 1.0182)">VOUT</text>
<text transform="translate(382.25 51.79) rotate(-90) scale(0.9737 1.0182)">VOUT</text>
<text transform="translate(415.15 49.01) rotate(-90) scale(0.9481 1.0182)">PGND</text>
<text transform="translate(446.55 49.01) rotate(-90) scale(0.9481 1.0182)">PGND</text>
<text transform="translate(478.85 49.01) rotate(-90) scale(0.9481 1.0182)">PGND</text>
<text transform="translate(160.75 924.39) rotate(-90) scale(0.8951 1.0101)">ISHARE</text>
<text transform="translate(192.05 932.78) rotate(-90) scale(0.9061 1.0020)">VSHARE</text>
<text transform="translate(224.55 880.21) rotate(-90) scale(0.8844 1.0586)">EN</text>
<text transform="translate(256.15 925.28) rotate(-90) scale(0.9310 1.0182)">PGOOD</text>
<text transform="translate(288.45 907.89) rotate(-90) scale(0.8563 1.0182)">SYNC</text>
<text transform="translate(319.85 901.28) rotate(-90) scale(0.8651 1.0182)">VSEL</text>
<text transform="translate(352.35 877.81) rotate(-90) scale(0.7512 1.0424)">SS</text>
<text transform="translate(383.95 878.73) rotate(-90) scale(0.8310 1.0586)">RT</text>
<text transform="translate(416.35 913.57) rotate(-90) scale(0.9913 1.0182)">MODE</text>
<text transform="translate(447.85 912.35) rotate(-90) scale(0.9760 1.0182)">RAMP</text>
<text transform="translate(480.15 956.31) rotate(-90) scale(0.9461 1.0586)">RAMP_SEL</text>
<text transform="translate(289.41 226.80) scale(0.9697 1.0101)">VOUT</text>
<text transform="translate(290.27 574.20) scale(0.9601 1.0101)">PGND</text>
<text transform="translate(301.02 268.20) scale(1.2042 1.1394)" class="b">69</text>
<text transform="translate(301.02 620.60) scale(1.2012 1.1394)" class="b">68</text>
<text transform="translate(161.73 490.70) scale(0.9882 1.0101)">PVIN</text>
<text transform="translate(171.36 516.60) scale(1.0451 1.0101)">67</text>
</svg>
</body></html>
